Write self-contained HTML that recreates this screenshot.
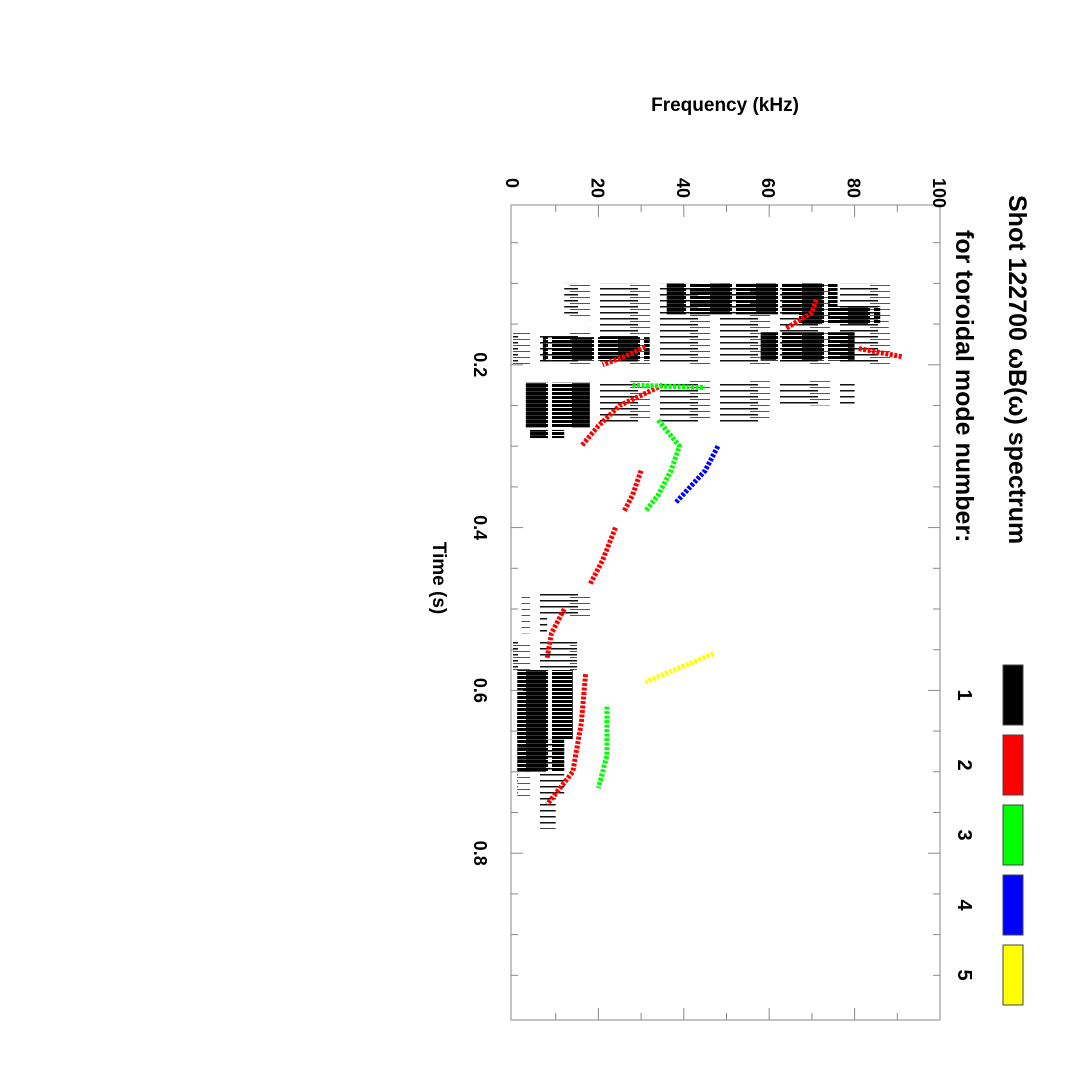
<!DOCTYPE html>
<html><head><meta charset="utf-8"><style>
body{margin:0;background:#fff}
svg{display:block}
text{font-family:"Liberation Sans",sans-serif;font-weight:bold;fill:#000}
</style></head><body>
<svg id="chart" width="1071" height="1071" viewBox="0 0 1071 1071" xmlns="http://www.w3.org/2000/svg">
<defs>
<pattern id="streak" patternUnits="userSpaceOnUse" width="46" height="4">
<rect x="0" y="0" width="42" height="3" fill="#000"/>
<rect x="20" y="3" width="20" height="1" fill="#333"/>
</pattern>
<pattern id="streak2" patternUnits="userSpaceOnUse" width="60" height="6">
<rect x="0" y="0" width="38" height="1.5" fill="#111"/>
<rect x="30" y="3" width="20" height="1" fill="#555"/>
</pattern>
</defs>
<rect x="0" y="0" width="1071" height="1071" fill="#fff"/>
<g id="marks"></g>
<rect x="511" y="205" width="429" height="815" fill="none" stroke="#888" stroke-width="1"/>
<g id="ticks"></g>
<text x="725" y="111" text-anchor="middle" font-size="19">Frequency (kHz)</text>
<text transform="translate(433,578) rotate(90)" text-anchor="middle" font-size="19">Time (s)</text>
<text transform="translate(1009,195) rotate(90)" font-size="25">Shot 122700 ωB(ω) spectrum</text>
<text transform="translate(956,230) rotate(90)" font-size="25">for toroidal mode number:</text>
<g id="legend"></g>
</svg>
<script>
const NS="http://www.w3.org/2000/svg";
const freqTicks=[0,20,40,60,80,100];
const timeTicks=[0.2,0.4,0.6,0.8];
const modeLabels=["1","2","3","4","5"];
const modeColors=["#000","#f00","#0f0","#00f","#ff0"];
// dense black (n=1) blobs: [t0,t1,f0,f1]
const blackDense=[[0.10,0.138,36,76],[0.128,0.15,67,86],[0.166,0.195,7,32],[0.16,0.195,58,80],[0.222,0.277,3,18],[0.28,0.29,4,12],[0.575,0.66,1,14],[0.62,0.7,1,12]];
// sparse black blobs
const blackSparse=[[0.10,0.14,12,90],[0.138,0.16,18,88],[0.16,0.2,0,90],[0.22,0.25,18,80],[0.25,0.27,18,60],[0.48,0.51,2,20],[0.51,0.53,2,8],[0.54,0.575,0,15],[0.66,0.73,1,12],[0.73,0.77,4,10]];
const redCurve1=[[0.178,31],[0.19,26],[0.2,21]];
const redCurve2=[[0.225,35],[0.25,25],[0.275,20],[0.3,16]];
const redCurve3=[[0.33,30],[0.36,28],[0.38,26]];
const redCurve4=[[0.40,24],[0.44,21],[0.47,18]];
const redCurve5=[[0.50,12],[0.53,9],[0.56,8]];
const redCurve6=[[0.58,17],[0.64,16],[0.70,14],[0.74,8]];
const redCurve7=[[0.12,71],[0.136,70],[0.155,64]];
const redCurve8=[[0.18,81],[0.19,91]];
const greenCurve1=[[0.268,34],[0.3,39],[0.33,37],[0.36,34],[0.38,31]];
const greenCurve2=[[0.225,28],[0.228,45]];
const greenCurve3=[[0.62,22],[0.68,22],[0.72,20]];
const blueCurve1=[[0.30,48],[0.33,45],[0.37,38]];
const yellowCurve1=[[0.555,47],[0.57,40],[0.59,31]];
const curves=[[1,redCurve1],[1,redCurve2],[1,redCurve3],[1,redCurve4],[1,redCurve5],[1,redCurve6],[1,redCurve7],[1,redCurve8],[2,greenCurve1],[2,greenCurve2],[2,greenCurve3],[3,blueCurve1],[4,yellowCurve1]];
const X=f=>513+f*4.27, Y=t=>202+t*814;
const marks=document.getElementById('marks');
function blob(b,fill,name){const r=document.createElementNS(NS,'rect');
r.setAttribute('x',X(b[2]));r.setAttribute('y',Y(b[0]));r.setAttribute('width',X(b[3])-X(b[2]));r.setAttribute('height',Y(b[1])-Y(b[0]));r.setAttribute('fill',fill);


marks.appendChild(r);}
blackSparse.forEach(b=>blob(b,'url(#streak2)','mode1-sparse-blob'));
blackDense.forEach(b=>blob(b,'url(#streak)','mode1-dense-blob'));
curves.forEach(c=>{const p=document.createElementNS(NS,'polyline');
p.setAttribute('points',c[1].map(d=>X(d[1])+','+Y(d[0])).join(' '));p.setAttribute('fill','none');p.setAttribute('stroke',modeColors[c[0]]);p.setAttribute('stroke-width','5');p.setAttribute('stroke-dasharray','3 1.5');


marks.appendChild(p);});
const tk=document.getElementById('ticks');
function line(x1,y1,x2,y2){const l=document.createElementNS(NS,'line');l.setAttribute('x1',x1);l.setAttribute('y1',y1);l.setAttribute('x2',x2);l.setAttribute('y2',y2);l.setAttribute('stroke','#888');


tk.appendChild(l);}
for(let f=10;f<100;f+=10){const L=(f%20==0)?12:7;line(X(f),205,X(f),205+L);line(X(f),1020,X(f),1020-L);}
for(let t=0.05;t<1;t+=0.05){const L=(Math.round(t*100)%20==0)?12:7;line(511,Y(t),511+L,Y(t));line(940,Y(t),940-L,Y(t));}
freqTicks.forEach(f=>{const t=document.createElementNS(NS,'text');t.setAttribute('transform',`translate(${X(f)-7},178) rotate(90)`);t.setAttribute('font-size','18');t.textContent=f;


tk.appendChild(t);});
timeTicks.forEach(v=>{const t=document.createElementNS(NS,'text');t.setAttribute('transform',`translate(474,${Y(v)}) rotate(90)`);t.setAttribute('text-anchor','middle');t.setAttribute('font-size','18');t.textContent=v;


tk.appendChild(t);});
const lg=document.getElementById('legend');
modeLabels.forEach((m,i)=>{const y=665+i*70;const r=document.createElementNS(NS,'rect');r.setAttribute('x',1003);r.setAttribute('y',y);r.setAttribute('width',20);r.setAttribute('height',60);r.setAttribute('fill',modeColors[i]);r.setAttribute('stroke','#444');


lg.appendChild(r);
const t=document.createElementNS(NS,'text');t.setAttribute('transform',`translate(958,${y+30}) rotate(90)`);t.setAttribute('text-anchor','middle');t.setAttribute('font-size','20');t.textContent=m;


lg.appendChild(t);});
</script>
</body></html>
